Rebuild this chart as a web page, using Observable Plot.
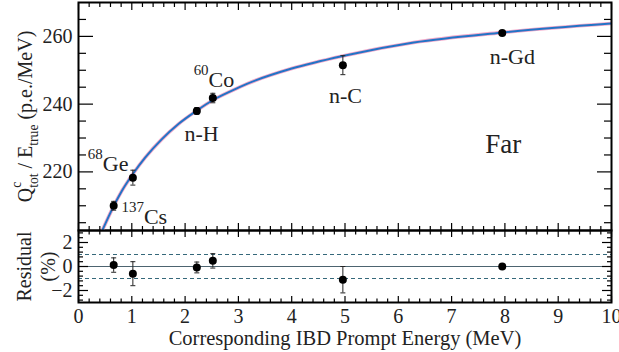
<!DOCTYPE html>
<html><head><meta charset="utf-8">
<script src="https://cdn.jsdelivr.net/npm/d3@7"></script>
<script src="https://cdn.jsdelivr.net/npm/@observablehq/plot@0.6"></script>
<style>
html,body{margin:0;padding:0;background:#fff;}
#chart{position:relative;width:619px;height:352px;overflow:hidden;}
#chart svg{position:absolute;left:0;font-family:"Liberation Serif","Times New Roman",serif !important;}
#chart svg text{font-family:"Liberation Serif","Times New Roman",serif !important;}
</style></head><body><div id="chart"></div>
<script>
// ---- data ----
const sources   = ["137Cs", "68Ge", "n-H", "60Co", "n-C", "n-Gd"];
const energy    = [0.66, 1.02, 2.22, 2.52, 4.96, 7.95];     // MeV
const qRatio    = [210.0, 218.3, 238.0, 241.8, 251.5, 261.0]; // p.e./MeV
const qErr      = [1.3, 2.2, 1.0, 1.4, 2.8, 0.3];
const residual  = [0.12, -0.6, -0.08, 0.47, -1.1, 0.0];      // %
const residErr  = [0.6, 1.0, 0.45, 0.6, 1.1, 0.1];

// fitted model curve
const curveE = [0.42, 0.66, 0.81, 1.03, 1.25, 1.56, 1.88, 2.22, 2.50, 2.88, 3.16, 4.0, 4.98, 6.29, 7.92, 10.0];
const curveQ = [201.8, 209.9, 214.3, 219.6, 224.2, 229.6, 234.2, 238.1, 241.0, 244.0, 246.0, 250.5, 254.3, 258.2, 261.1, 263.8];

// annotations (data coordinates)
const noteText  = ["^{137}Cs", "^{68}Ge", "^{60}Co", "n-H", "n-C", "n-Gd"];
const noteE     = [0.807, 0.175, 2.16, 2.31, 5.01, 8.14];
const noteQ     = [206.7, 222.4, 247.2, 231.2, 242.5, 254.0];
const noteAlign = ["start", "start", "start", "middle", "middle", "middle"];
const tagText = ["Far"];
const tagE = [7.97];
const tagQ = [228.0];

// axes
const xTicks = [0, 1, 2, 3, 4, 5, 6, 7, 8, 9, 10];
const yTicksTop = [220, 240, 260];
const yTicksRes = [-2, 0, 2];
const residGuides = [-1, 1];
const xTitle = "Corresponding IBD Prompt Energy (MeV)";
const yTitleTop = "Q^{c}_{tot} / E_{true} (p.e./MeV)";
const yTitleRes = "Residual\n(%)";

// ---- build ----
const ink = "#222";
const fontFamily = "Liberation Serif";
const pts = sources.map((s, i) => ({s, e: energy[i], q: qRatio[i], qe: qErr[i], r: residual[i], re: residErr[i]}));
const curve = curveE.map((e, i) => ({e, q: curveQ[i]}));
const notes = noteText.map((t, i) => ({t, e: noteE[i], q: noteQ[i], a: noteAlign[i]}));
const tags = tagText.map((t, i) => ({t, e: tagE[i], q: tagQ[i]}));
const capSymbol = {draw(ctx, size) { const w = Math.sqrt(size / Math.PI); ctx.moveTo(-w, 0); ctx.lineTo(w, 0); }};

const xMinor = d3.range(0, 10.001, 0.2).map(v => +v.toFixed(2)).filter(v => !xTicks.includes(v));
const yMinorTop = d3.range(205, 270, 5).filter(v => !yTicksTop.includes(v));
const yMinorRes = d3.range(-2.8, 2.81, 0.4).map(v => +v.toFixed(2)).filter(v => !yTicksRes.includes(v));

function ticksX(maj, min, lenMaj, lenMin) {
  const o = {text: null, label: null, strokeWidth: 1.2, stroke: "#000"};
  return ["top", "bottom"].flatMap(a => [
    Plot.axisX(maj, {...o, anchor: a, tickSize: -lenMaj}),
    Plot.axisX(min, {...o, anchor: a, tickSize: -lenMin})
  ]);
}
function ticksY(maj, min, lenMaj, lenMin) {
  const o = {text: null, label: null, strokeWidth: 1.2, stroke: "#000"};
  return ["left", "right"].flatMap(a => [
    Plot.axisY(maj, {...o, anchor: a, tickSize: -lenMaj}),
    Plot.axisY(min, {...o, anchor: a, tickSize: -lenMin})
  ]);
}
const style = {fontFamily, color: ink, background: "transparent", overflow: "visible"};

const topPlot = Plot.plot({
  width: 619, height: 232, marginLeft: 78, marginRight: 8, marginTop: 2, marginBottom: 2,
  style,
  x: {domain: [0, 10]},
  y: {domain: [202.7, 270]},
  marks: [
    Plot.line(curve, {x: "e", y: "q", curve: "monotone-x", stroke: "#f2a9c9", strokeWidth: 3.6, clip: true}),
    Plot.line(curve, {x: "e", y: "q", curve: "monotone-x", stroke: "#2274c6", strokeWidth: 2, clip: true}),
    Plot.ruleX(pts, {x: "e", y1: d => d.q - d.qe, y2: d => d.q + d.qe, stroke: ink, strokeWidth: 1}),
    Plot.dot(pts, {x: "e", y: d => d.q - d.qe, symbol: capSymbol, r: 2.5, stroke: ink, strokeWidth: 1}),
    Plot.dot(pts, {x: "e", y: d => d.q + d.qe, symbol: capSymbol, r: 2.5, stroke: ink, strokeWidth: 1}),
    Plot.dot(pts, {x: "e", y: "q", r: 4, fill: "#000"}),
    Plot.text(notes.filter(d => d.a === "start"), {x: "e", y: "q", text: "t", textAnchor: "start", fontSize: 22, fill: ink}),
    Plot.text(notes.filter(d => d.a === "middle"), {x: "e", y: "q", text: "t", textAnchor: "middle", fontSize: 22, fill: ink}),
    Plot.text(tags, {x: "e", y: "q", text: "t", textAnchor: "middle", fontSize: 27, fill: ink}),
    Plot.text([yTitleTop], {frameAnchor: "left", textAnchor: "middle", lineAnchor: "middle", rotate: -90, dx: -53, fontSize: 20, fill: ink}),
    ...ticksX(xTicks, xMinor, 7, 4),
    ...ticksY(yTicksTop, yMinorTop, 15, 8),
    Plot.axisY(yTicksTop, {anchor: "left", tickSize: 0, tickPadding: 6, fontSize: 20, label: null}),
    Plot.frame({stroke: "#000", strokeWidth: 2})
  ]
});

const bottomPlot = Plot.plot({
  width: 619, height: 124, marginLeft: 78, marginRight: 8, marginTop: 2, marginBottom: 50,
  style,
  x: {domain: [0, 10]},
  y: {domain: [-3, 3]},
  marks: [
    Plot.ruleY(residGuides, {y: d => d, stroke: "#35687a", strokeWidth: 1, strokeDasharray: "4,3"}),
    Plot.ruleY([0], {y: d => d, stroke: "#4d6470", strokeWidth: 1}),
    Plot.ruleX(pts, {x: "e", y1: d => d.r - d.re, y2: d => d.r + d.re, stroke: ink, strokeWidth: 1}),
    Plot.dot(pts, {x: "e", y: d => d.r - d.re, symbol: capSymbol, r: 2.5, stroke: ink, strokeWidth: 1}),
    Plot.dot(pts, {x: "e", y: d => d.r + d.re, symbol: capSymbol, r: 2.5, stroke: ink, strokeWidth: 1}),
    Plot.dot(pts, {x: "e", y: "r", r: 4, fill: "#000"}),
    ...ticksX(xTicks, xMinor, 6, 3.5),
    ...ticksY(yTicksRes, yMinorRes, 10, 5),
    Plot.axisY(yTicksRes, {anchor: "left", tickSize: 0, tickPadding: 6, fontSize: 20, label: null}),
    Plot.axisX(xTicks, {anchor: "bottom", tickSize: 0, tickPadding: 6, fontSize: 20, label: null}),
    Plot.text([xTitle], {frameAnchor: "bottom", textAnchor: "middle", lineAnchor: "middle", dy: 36, fontSize: 20.5, fill: ink}),
    Plot.text([yTitleRes], {frameAnchor: "left", textAnchor: "middle", lineAnchor: "middle", rotate: -90, dx: -43, fontSize: 20, lineHeight: 1.2, fill: ink}),
    Plot.frame({stroke: "#000", strokeWidth: 2})
  ]
});

const chart = document.getElementById("chart");
bottomPlot.style.top = "228px";
topPlot.style.top = "0px";
chart.appendChild(bottomPlot);
chart.appendChild(topPlot);

// turn ^{..} / _{..} markup into real super/subscript tspans
function richText(svg) {
  d3.select(svg).selectAll("text").each(function() {
    const el = this;
    const s = el.textContent;
    if (!/[\^_]\{/.test(s)) return;
    const fs = parseFloat(getComputedStyle(el).fontSize) || 20;
    el.textContent = "";
    const parts = s.split(/(\^\{[^}]*\}|_\{[^}]*\})/).filter(p => p !== "");
    let shift = 0, prevSup = null;
    for (const p of parts) {
      const t = d3.select(el).append("tspan");
      if (p.startsWith("^{")) {
        const target = -0.55 * fs;
        t.text(p.slice(2, -1)).attr("font-size", 0.68 * fs).attr("dy", target - shift);
        shift = target; prevSup = t;
      } else if (p.startsWith("_{")) {
        const target = 0.3 * fs;
        t.text(p.slice(2, -1)).attr("font-size", 0.68 * fs).attr("dy", target - shift);
        if (prevSup) t.attr("dx", -prevSup.node().getComputedTextLength());
        shift = target; prevSup = null;
      } else {
        t.text(p).attr("dy", -shift);
        shift = 0; prevSup = null;
      }
    }
  });
}
richText(topPlot);
richText(bottomPlot);
</script></body></html>
